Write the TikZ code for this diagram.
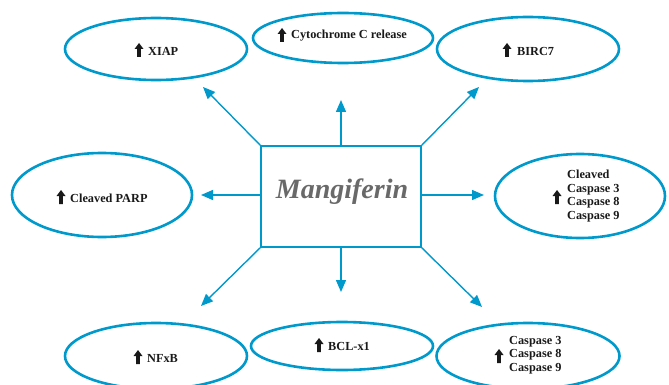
\documentclass[tikz,border=0pt]{standalone}
\usepackage{fontspec}
\setmainfont{Liberation Serif}
\usetikzlibrary{shapes.geometric,arrows.meta}
\definecolor{cblue}{RGB}{0,153,204}
\definecolor{mgray}{RGB}{105,105,105}
\begin{document}
\begin{tikzpicture}[x=1pt,y=-1pt,
 oval/.style={draw=cblue,line width=2.6pt,ellipse,inner sep=0pt},
 conn/.style={draw=cblue,line width=1.4pt,-{Triangle[length=12pt,width=10pt]}},
 lbl/.style={font=\bfseries\fontsize{12.3}{13.7}\selectfont,anchor=west,inner sep=0pt,align=left,text=black!90},
 uparr/.pic={\fill[black!90] (-1.8,7) -- (-1.8,-1) -- (-4.5,-1) -- (0,-7) -- (4.5,-1) -- (1.8,-1) -- (1.8,7) -- cycle;}
]
\useasboundingbox (0,0) rectangle (669,385);
\clip (0,0) rectangle (669,385);

% central box
\node[draw=cblue,line width=1.4pt,minimum width=160pt,minimum height=101pt,inner sep=0pt] (box) at (341,196.5) {};
\node[font=\bfseries\itshape\fontsize{28}{31}\selectfont,text=mgray,inner sep=0pt] (mang) at (342,192) {Mangiferin};

% ellipses
\node[oval,minimum width=182pt,minimum height=62pt] (xiap) at (156,49) {};
\node[oval,minimum width=180pt,minimum height=50pt] (cyto) at (343,38) {};
\node[oval,minimum width=182pt,minimum height=64pt] (birc) at (528,49) {};
\node[oval,minimum width=180pt,minimum height=84pt] (parp) at (102,195) {};
\node[oval,minimum width=170pt,minimum height=84pt] (ccasp) at (580,196) {};
\node[oval,minimum width=182pt,minimum height=66pt] (nfkb) at (156,356) {};
\node[oval,minimum width=182pt,minimum height=48pt] (bcl) at (342,346) {};
\node[oval,minimum width=183pt,minimum height=66pt] (casp) at (528,356) {};

% labels
\pic at (139,50) {uparr};
\node[lbl] (txiap) at (148,51) {XIAP};
\pic at (282,35) {uparr};
\node[lbl] (tcyto) at (291,36) {Cytochrome C release};
\pic at (507,50) {uparr};
\node[lbl] (tbirc) at (517,51) {BIRC7};
\pic at (61,197) {uparr};
\node[lbl] (tparp) at (70,198) {Cleaved PARP};
\pic at (557,197) {uparr};
\node[lbl] (tccasp) at (567,196) {Cleaved\\Caspase 3\\Caspase 8\\Caspase 9};
\pic at (138,357) {uparr};
\node[lbl] (tnfkb) at (147,358) {NFxB};
\pic at (319,345) {uparr};
\node[lbl] (tbcl) at (328,346) {BCL-x1};
\pic at (499,356) {uparr};
\node[lbl] (tcasp) at (509,355) {Caspase 3\\Caspase 8\\Caspase 9};

% arrow tips
\coordinate (pul) at (203,87);
\coordinate (pu) at (341,100);
\coordinate (pur) at (479,87);
\coordinate (pl) at (201,195);
\coordinate (pr) at (484,195);
\coordinate (pdl) at (201,306);
\coordinate (pd) at (341,292);
\coordinate (pdr) at (482,307);

\draw[conn] (box.north west) -- (pul);
\draw[conn] (box.north) -- (pu);
\draw[conn] (box.north east) -- (pur);
\draw[conn] (box.west |- pl) -- (pl);
\draw[conn] (box.east |- pr) -- (pr);
\draw[conn] (box.south west) -- (pdl);
\draw[conn] (box.south) -- (pd);
\draw[conn] (box.south east) -- (pdr);
\end{tikzpicture}
\end{document}
